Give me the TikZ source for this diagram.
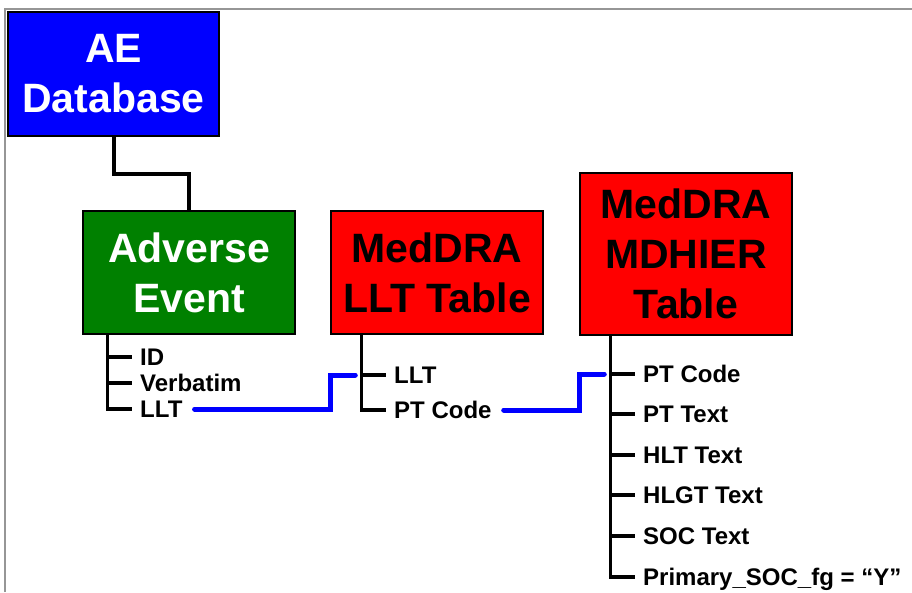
\documentclass[tikz,border=0pt]{standalone}
\usepackage{fontspec}
\setmainfont{Liberation Sans}
\definecolor{dbblue}{RGB}{0,0,255}
\definecolor{evgreen}{RGB}{0,128,0}
\definecolor{tblred}{RGB}{255,0,0}
\definecolor{framegray}{RGB}{150,150,150}
\begin{document}
\begin{tikzpicture}[x=1pt,y=-1pt,
  box/.style={draw=black,line width=1.5pt,inner sep=0pt,minimum width=212pt,
    align=center,font=\bfseries\fontsize{41}{50}\selectfont},
  item/.style={anchor=west,inner xsep=8pt,inner ysep=0pt,text height=16pt,text depth=0pt,
    font=\bfseries\fontsize{24}{28}\selectfont},
  tree/.style={draw=black,line width=3.5pt},
  conn/.style={draw=black,line width=4pt},
  link/.style={draw=dbblue,line width=5pt,line cap=round}]
\useasboundingbox (0,0) rectangle (912,592);
% outer frame
\draw[framegray,line width=2pt] (5,592) -- (5,9) -- (912,9);

% tables
\node[box,fill=dbblue,text=white,minimum width=211pt,minimum height=124pt] (aedb) at (113.5,74) {AE\\Database};
\node[box,fill=evgreen,text=white,minimum height=123pt] (ae) at (189,272.5) {Adverse\\Event};
\node[box,fill=tblred,minimum height=123pt] (llt) at (437,272.5) {MedDRA\\LLT Table};
\node[box,fill=tblred,minimum height=162pt] (mdh) at (686,254) {MedDRA\\MDHIER\\Table};

\draw[conn] (aedb.south) -- ++(0,37) -| (ae.north);

% Adverse Event fields
\coordinate (aeroot) at ([xshift=25pt]ae.south west);
\node[item] (aeid) at (132,357) {ID};
\node[item] (aeverb) at (132,383) {Verbatim};
\node[item] (aellt) at (132,409) {LLT};
\draw[tree] (aeroot) |- (aellt.west);
\draw[tree] (aeid.west -| aeroot) -- (aeid.west);
\draw[tree] (aeverb.west -| aeroot) -- (aeverb.west);

% LLT table fields
\coordinate (lltroot) at ([xshift=31pt]llt.south west);
\node[item] (lltllt) at (386,375) {LLT};
\node[item] (lltpt) at (386,410) {PT Code};
\draw[tree] (lltroot) |- (lltpt.west);
\draw[tree] (lltllt.west -| lltroot) -- (lltllt.west);

% MDHIER table fields
\coordinate (mdhroot) at ([xshift=31pt]mdh.south west);
\node[item] (mdhpt) at (635,374) {PT Code};
\node[item] (mdhptt) at (635,414) {PT Text};
\node[item] (mdhhlt) at (635,455) {HLT Text};
\node[item] (mdhhlgt) at (635,495) {HLGT Text};
\node[item] (mdhsoc) at (635,536) {SOC Text};
\node[item] (mdhprim) at (635,577) {Primary\_SOC\_fg = “Y”};
\draw[tree] (mdhroot) |- (mdhprim.west);
\foreach \n in {mdhpt,mdhptt,mdhhlt,mdhhlgt,mdhsoc}
  \draw[tree] (\n.west -| mdhroot) -- (\n.west);

% key links between tables
\draw[link] ([xshift=4pt]aellt.east) -- (aellt.east -| llt.west) |- ([xshift=-6pt]lltllt.west -| lltroot);
\draw[link] ([xshift=4pt]lltpt.east) -- (lltpt.east -| mdh.west) |- ([xshift=-6pt]mdhpt.west -| mdhroot);
\end{tikzpicture}
\end{document}
